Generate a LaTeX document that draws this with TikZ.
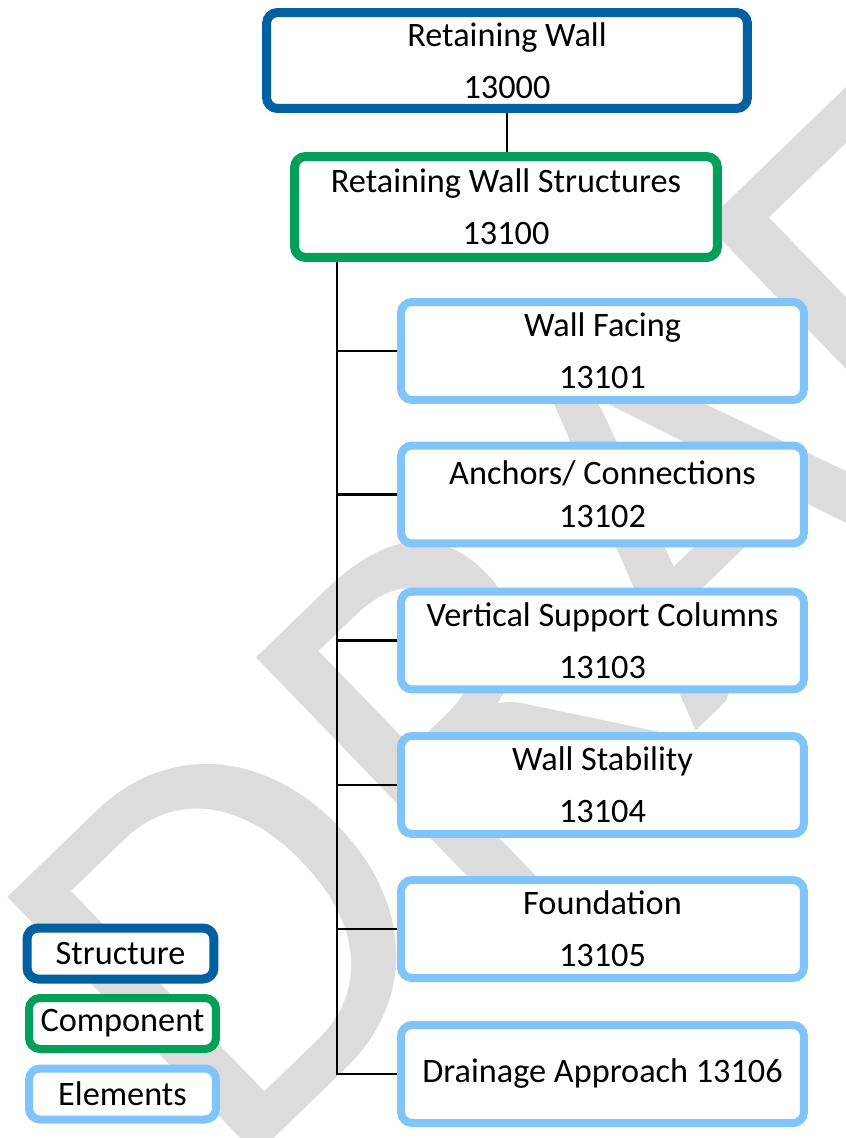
\documentclass[tikz,border=0pt]{standalone}
\usepackage{fontspec}
\setmainfont{Carlito}
\definecolor{structblue}{RGB}{0,96,160}
\definecolor{compgreen}{RGB}{0,160,90}
\definecolor{elemblue}{RGB}{128,196,250}
\definecolor{draftgray}{RGB}{220,220,220}

\begin{document}
\begin{tikzpicture}[x=0.02cm,y=-0.02cm,
        box/.style={draw,fill=white,rounded corners=0.22cm,align=center,text=black,inner sep=0pt,
            font=\fontsize{19.5}{29.5}\selectfont},
        structbox/.style={box,draw=structblue,line width=0.18cm},
        compbox/.style={box,draw=compgreen,line width=0.18cm},
        elembox/.style={box,draw=elemblue,line width=0.16cm,minimum width=8.06cm,minimum height=1.96cm},
        keybox/.style={minimum width=3.74cm,minimum height=1.02cm},
        link/.style={draw=black,line width=1.3pt},
        draftmark/.style={anchor=base west,rotate=44,inner sep=0pt,text=draftgray,
            font=\fontsize{318}{318}\selectfont}]
        \useasboundingbox (0,0) rectangle (845,1138);
        \begin{scope}
            \clip (0,0) rectangle (845,1138);
            \node[draftmark] (draft) at (229,1182) {DRAFT};
        \end{scope}

        \node[structbox,minimum width=9.62cm,minimum height=1.92cm] (wall) at (507,60.5) {Retaining Wall\\13000};
        \node[compbox,minimum width=8.46cm,minimum height=2.02cm] (comp) at (506,207) {Retaining Wall Structures\\13100};

        \node[elembox] (e1) at (602.5,351) {Wall Facing\\13101};
        \node[elembox,font=\fontsize{19.5}{24.5}\selectfont] (e2) at (602.5,494.5) {Anchors/ Connections\\13102};
        \node[elembox] (e3) at (602.5,640.5) {Vertical Support Columns\\13103};
        \node[elembox] (e4) at (602.5,785) {Wall Stability\\13104};
        \node[elembox] (e5) at (602.5,929) {Foundation\\13105};
        \node[elembox] (e6) at (602.5,1074) {Drainage Approach 13106};

        \draw[link] (wall.south) -- (wall.south |- comp.north);
        \coordinate (trunk) at (337,258);
        \draw[link,line width=1.6pt] (trunk |- comp.south) |- (e6.west);
        \foreach \i in {1,...,5}
            \draw[link] (trunk |- e\i.west) -- (e\i.west);

        \node[structbox,keybox] (keystruct) at (120.5,953.5) {Structure};
        \node[compbox,keybox,line width=0.16cm] (keycomp) at (122.5,1023.5) {Component};
        \node[elembox,keybox] (keyelem) at (122.5,1094) {Elements};
    \end{tikzpicture}
\end{document}
